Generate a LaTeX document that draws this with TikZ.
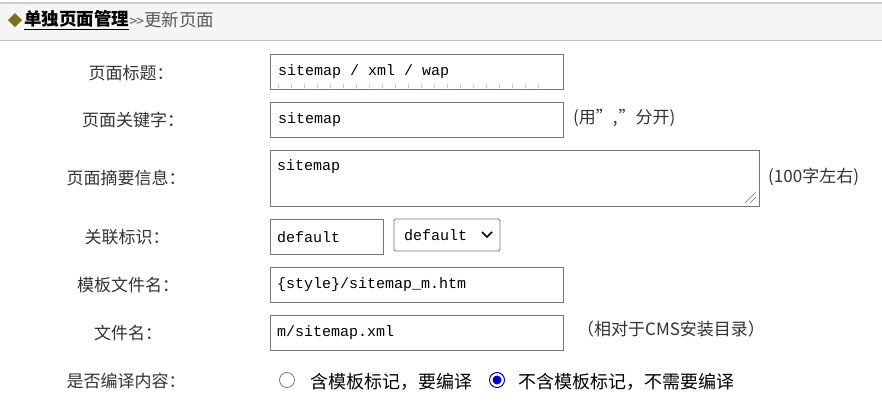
\documentclass[tikz,border=0pt]{standalone}
\usepackage{fontspec}
\setmainfont{Noto Sans CJK SC}
\newfontfamily\monof{Liberation Mono}
\definecolor{txt}{HTML}{333333}
\definecolor{bd}{HTML}{767676}
\begin{document}
\begin{tikzpicture}[x=1pt,y=-1pt,
  lbl/.style={font=\fontsize{17}{19}\selectfont, text=txt, inner sep=0pt},
  inp/.style={draw=bd, line width=0.8pt, fill=white},
  val/.style={font=\monof\fontsize{15}{17}\selectfont, text=black, anchor=west, inner sep=0pt}]
\useasboundingbox (0,0) rectangle (882,408);
\fill[white] (0,0) rectangle (882,408);
\fill[black!4] (0,4) rectangle (882,40);
\draw[black!20, line width=1.2pt] (0,3) -- (882,3);
\draw[black!25, line width=1pt] (0,40.5) -- (882,40.5);
\fill[olive!80!black] (8,20) -- (15,13) -- (22,20) -- (15,27) -- cycle;
\node[lbl, anchor=west, font=\bfseries\fontsize{17.5}{19}\selectfont, text=black] (t1) at (24,20) {\underline{单独页面管理}};
\node[lbl, anchor=west, font=\fontsize{17.5}{19}\selectfont, text=black!65] (t2) at (t1.east) {\fontsize{14}{16}\selectfont\textgreater\kern-1pt\textgreater\fontsize{17.5}{19}\selectfont 更新页面};
% labels
\node[lbl] (l1) at (131,73) {页面标题：};
\node[lbl] (l2) at (133,120) {页面关键字：};
\node[lbl] (l3) at (126,178) {页面摘要信息：};
\node[lbl] (l4) at (127,237) {关联标识：};
\node[lbl] (l5) at (128,285) {模板文件名：};
\node[lbl] (l6) at (128,333) {文件名：};
\node[lbl] (l7) at (126,381) {是否编译内容：};
% inputs
\draw[inp] (270,54) rectangle (563,89);
\foreach \i in {0,...,20} \draw[green!60!black!30] (278+\i*13,88) -- (278+\i*13,84);
\node[val] (v1) at (278,72) {sitemap / xml / wap};
\draw[inp] (270,102) rectangle (563,137);
\node[val] (v2) at (278,120) {sitemap};
\node[lbl, anchor=west] (s2) at (573,118) {(用",\kern1pt"分开)};
\draw[inp] (270,150) rectangle (759,206);
\node[val] (v3) at (277,167) {sitemap};
\draw[bd] (745,203) -- (756,192) (750,203) -- (756,197);
\node[lbl, anchor=west] (s3) at (768,177) {(100字左右)};
\draw[inp] (270,219) rectangle (383,254);
\node[val] (v4) at (277,237) {default};
\draw[inp, rounded corners=1.5pt] (394,219) rectangle (500,251);
\node[val] (v5) at (404,235) {default};
\draw[line width=1.6pt] (482,232) -- (487,237) -- (492,232);
\draw[inp] (270,267) rectangle (563,302);
\node[val] (v6) at (277,285) {\{style\}/sitemap\_m.htm};
\draw[inp] (270,315) rectangle (563,350);
\node[val] (v7) at (277,333) {m/sitemap.xml};
\node[lbl, anchor=west] (s7) at (577,329) {（相对于CMS安装目录）};
% radios
\draw[bd, line width=0.8pt, fill=white] (287,380) circle (7.5);
\node[lbl, anchor=west, text=black, font=\fontsize{18}{20}\selectfont] (r1) at (310,382) {含模板标记，要编译};
\draw[blue!80!black, line width=1pt, fill=white] (497,380) circle (7.5);
\fill[blue!80!black] (497,380) circle (4.5);
\node[lbl, anchor=west, text=black, font=\fontsize{18}{20}\selectfont] (r2) at (518,382) {不含模板标记，不需要编译};
\end{tikzpicture}
\end{document}
